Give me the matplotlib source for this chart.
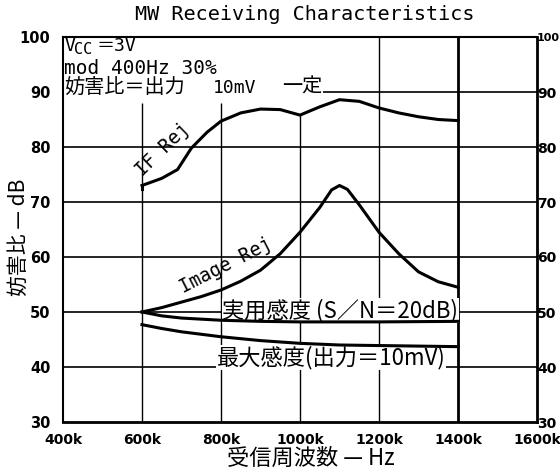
import numpy as np
import matplotlib
matplotlib.use("Agg")
import matplotlib.pyplot as plt

plt.rcParams['font.family'] = ['DejaVu Sans', 'Noto Sans CJK JP']
JP = ['Noto Sans CJK JP', 'DejaVu Sans']
MONO = ['DejaVu Sans Mono', 'Noto Sans CJK JP']

# 受信周波数 (kHz) と各特性 (dB)
if_freq = [600, 650, 690, 725, 765, 800, 850, 900, 950, 1000, 1050, 1100, 1150, 1200, 1250, 1300, 1350, 1400]
if_rej = [73.0, 74.3, 75.9, 79.8, 82.7, 84.7, 86.2, 86.9, 86.8, 85.8, 87.3, 88.6, 88.3, 87.1, 86.2, 85.5, 85.0, 84.8]

img_freq = [600, 650, 700, 750, 800, 850, 900, 950, 1000, 1050, 1080, 1100, 1120, 1150, 1200, 1250, 1300, 1350, 1400]
img_rej = [50.0, 50.8, 51.8, 52.8, 54.0, 55.6, 57.6, 60.6, 64.5, 69.0, 72.2, 73.0, 72.3, 69.5, 64.5, 60.6, 57.3, 55.5, 54.5]

prac_freq = [600, 650, 700, 800, 900, 1000, 1200, 1400]
prac_sens = [50.0, 49.3, 48.9, 48.5, 48.3, 48.2, 48.2, 48.3]

max_freq = [600, 650, 700, 800, 900, 1000, 1100, 1200, 1400]
max_sens = [47.7, 47.0, 46.4, 45.5, 44.8, 44.3, 44.0, 43.9, 43.7]

x_ticks = [400, 600, 800, 1000, 1200, 1400, 1600]
x_labels = ['400k', '600k', '800k', '1000k', '1200k', '1400k', '1600k']
y_ticks = [30, 40, 50, 60, 70, 80, 90, 100]

fig = plt.figure(figsize=(5.6, 4.73), dpi=100)
ax = fig.add_axes([63 / 560, 1 - 422 / 473, 474 / 560, 385 / 473])
ax.set_xlim(400, 1600)
ax.set_ylim(30, 100)

# グリッド
for y in y_ticks[1:-2]:
    ax.axhline(y, color='black', lw=1.2, zorder=1)
ax.hlines(90, 1058, 1600, color='black', lw=1.2, zorder=1)
ax.vlines([600, 800], 30, 88, color='black', lw=1.0, zorder=1)
ax.vlines(1000, 30, 86, color='black', lw=1.0, zorder=1)
ax.vlines(1200, 30, 100, color='black', lw=1.0, zorder=1)
ax.vlines(1400, 30, 100, color='black', lw=2.0, zorder=1)

for s in ['top', 'left']:
    ax.spines[s].set_linewidth(1.5)
for s in ['bottom', 'right']:
    ax.spines[s].set_linewidth(2.0)

# 曲線
ax.plot(if_freq, if_rej, color='black', lw=2.2, zorder=5)
ax.plot([600, 600], [72.3, if_rej[0]], color='black', lw=2.2, zorder=5)
ax.plot(img_freq, img_rej, color='black', lw=2.2, zorder=5)
ax.plot(prac_freq, prac_sens, color='black', lw=2.2, zorder=5)
ax.plot(max_freq, max_sens, color='black', lw=2.2, zorder=5)

ax.set_xticks(x_ticks)
ax.set_xticklabels(x_labels, fontsize=10, fontweight='bold')
ax.set_yticks(y_ticks)
ax.set_yticklabels([str(v) for v in y_ticks], fontsize=10.5, fontweight='bold')
ax.tick_params(axis='both', length=0)
ax.tick_params(axis='x', pad=8)
ax.tick_params(axis='y', pad=9)

# 右側の目盛
ax2 = ax.twinx()
ax2.set_ylim(30, 100)
ax2.set_yticks(y_ticks)
ax2.set_yticklabels([str(v) for v in y_ticks], fontsize=10, fontweight='bold')
ax2.get_yticklabels()[-1].set_fontsize(8)
ax2.tick_params(axis='y', length=0, pad=0)
for s in ax2.spines.values():
    s.set_visible(False)

bg = dict(facecolor='white', edgecolor='none', pad=0.5)
ax.text(405, 98.3, 'V', fontsize=13, family=MONO, va='center', ha='left', zorder=4)
ax.text(429, 97.8, 'CC', fontsize=11, family=MONO, va='center', ha='left', zorder=4)
ax.text(484, 98.3, '＝3V', fontsize=13, family=MONO, va='center', ha='left', zorder=4)
ax.text(403, 94.3, 'mod 400Hz 30%', fontsize=14, family=MONO, va='center', ha='left', zorder=4)
ax.text(403, 90.8, '妨害比＝出力', fontsize=14.5, family=JP, va='center', ha='left', zorder=4)
ax.text(780, 90.8, '10mV', fontsize=13, family=MONO, va='center', ha='left', zorder=4)
ax.text(954, 90.8, '一定', fontsize=14.5, family=JP, va='center', ha='left', zorder=4)

ax.text(653, 79.5, 'IF Rej', fontsize=13.5, family=MONO, rotation=44, ha='center', va='center', zorder=4)
ax.text(813, 58.4, 'Image Rej', fontsize=13.5, family=MONO, rotation=27, ha='center', va='center', zorder=4)
ax.text(803, 50.2, '実用感度 (S／N＝20dB)', fontsize=16, family=JP, ha='left', va='center', bbox=bg, zorder=4)
ax.text(790, 41.8, '最大感度(出力＝10mV)', fontsize=16, family=JP, ha='left', va='center', bbox=bg, zorder=4)

fig.text(305 / 560, 1 - 15 / 473, 'MW Receiving Characteristics', fontsize=14.5,
         family=MONO, ha='center', va='center')
fig.text(19 / 560, 1 - 237 / 473, '妨害比 — dB', fontsize=15, family=JP, rotation=90,
         ha='center', va='center')
fig.text(311 / 560, 1 - 458 / 473, '受信周波数 — Hz', fontsize=16, family=JP,
         ha='center', va='center')

fig.savefig('out.png', dpi=100)
